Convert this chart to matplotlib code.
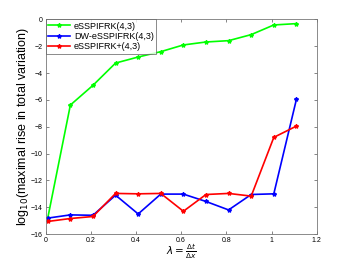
import matplotlib
matplotlib.use("Agg")
import matplotlib.pyplot as plt

# data
lam = [0.01, 0.11, 0.21, 0.31, 0.41, 0.51, 0.61, 0.71, 0.81, 0.91, 1.01, 1.11]
essp = [-14.8, -6.38, -4.91, -3.25, -2.8, -2.4, -1.9, -1.68, -1.58, -1.13, -0.41, -0.31]
dw_essp = [-14.81, -14.57, -14.6, -13.1, -14.5, -13.02, -13.02, -13.57, -14.2, -13.05, -13.0, -5.96]
essp_plus = [-15.06, -14.84, -14.69, -12.97, -13.0, -12.97, -14.3, -13.05, -12.97, -13.17, -8.79, -7.95]
labels = ["eSSPIFRK(4,3)", "DW-eSSPIFRK(4,3)", "eSSPIFRK+(4,3)"]
colors = ["#00ff00", "#0000ff", "#ff0000"]

plt.rcParams['font.family'] = ['Liberation Sans', 'DejaVu Sans']

fig = plt.figure(figsize=(3.5, 2.63), dpi=100)
ax = fig.add_axes([0.13, 0.11, 0.775, 0.816])

for ys, lab, col in zip([essp, dw_essp, essp_plus], labels, colors):
    ax.plot(lam, ys, color=col, lw=1.2, marker='*', ms=3, label=lab)

ax.set_xlim(0, 1.2)
ax.set_ylim(-16, 0)
ax.set_xticks([0, 0.2, 0.4, 0.6, 0.8, 1, 1.2])
ax.set_xticklabels(["0", "0.2", "0.4", "0.6", "0.8", "1", "1.2"])
ax.set_yticks(range(-16, 1, 2))
ax.tick_params(direction='in', top=True, right=True, labelsize=5, length=2.5,
               width=0.5, colors='#555555', labelcolor='black', pad=2)
for s in ax.spines.values():
    s.set_linewidth(0.6)
    s.set_color('#777777')

ax.set_xlabel(r"$\lambda = \frac{\Delta t}{\Delta x}$", fontsize=7.5, labelpad=-1)
ax.set_ylabel(r"log$_{10}$(maximal rise in total variation)", fontsize=9, labelpad=0)

leg = ax.legend(loc='upper left', fontsize=6.5, frameon=True, fancybox=False,
                borderaxespad=0, handlelength=2.5, borderpad=0.25, labelspacing=0.15,
                handletextpad=0.4, handleheight=0.8)
leg.get_frame().set_edgecolor('#555555')
leg.get_frame().set_linewidth(0.6)

fig.savefig("out.png", dpi=100)
